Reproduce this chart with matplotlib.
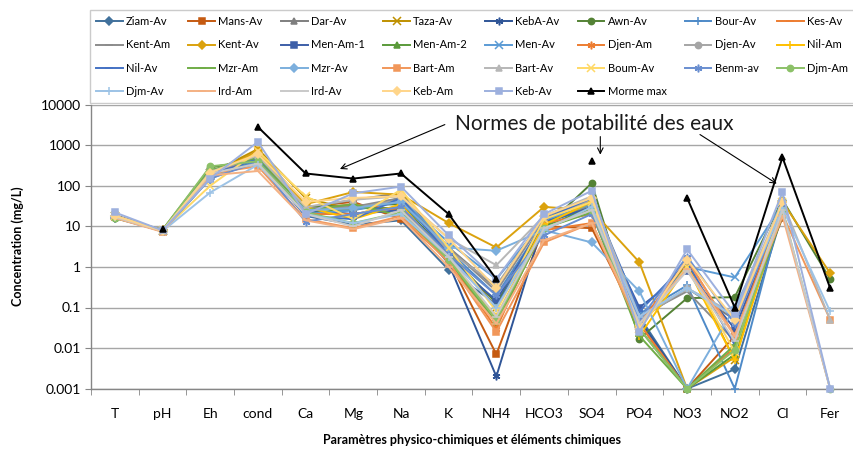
import numpy as np
import matplotlib
matplotlib.use("Agg")
import matplotlib.pyplot as plt

plt.rcParams['font.family'] = ['Lato', 'DejaVu Sans']

params = ["T", "pH", "Eh", "cond", "Ca", "Mg", "Na", "K", "NH4", "HCO3",
          "SO4", "PO4", "NO3", "NO2", "Cl", "Fer"]
nan = np.nan

# concentrations per station, in the order of `params`
Ziam_Av   = [16, 7.6, 150, 420, 18, 11, 14, 0.85, 0.12, 12, 35, 0.06, 0.001, 0.003, 20, nan]
Mans_Av   = [18, 7.9, 190, 700, 30, 40, 15, 1.5, 0.007, 10, 9, 0.04, 0.001, 0.02, 16, nan]
Dar_Av    = [19, 8.0, 220, 650, 28, 45, 65, 3, 0.3, 18, 40, 0.05, 0.3, 0.05, 40, nan]
Taza_Av   = [18, 7.7, 200, 800, 50, 25, 50, 2.5, 0.1, 12, 35, 0.04, 1.2, 0.005, 35, nan]
KebA_Av   = [17, 7.8, 170, 500, 22, 20, 30, 1.2, 0.002, 14, 25, 0.05, 0.001, 0.01, 22, nan]
Awn_Av    = [16, 8.2, 280, 450, 30, 33, 35, 2, 0.13, 9, 115, 0.017, 0.17, 0.18, 45, 0.5]
Bour_Av   = [17, 7.9, 170, 400, 20, 25, 40, 2.5, 0.2, 12, 30, 0.07, 0.35, 0.001, 30, nan]
Kes_Av    = [18, 7.6, 200, 550, 25, 35, 25, 1.5, 0.05, 8, 12, 0.04, 0.001, 0.01, 20, nan]
Kent_Am   = [18, 7.8, 190, 600, 28, 30, 50, 3, 0.25, 15, 45, 0.06, 0.25, 0.015, 35, nan]
Kent_Av   = [18, 8.0, 180, 700, 35, 70, 60, 12, 3.0, 30, 25, 1.3, 0.001, 0.006, 40, 0.7]
Men_Am_1  = [17, 7.7, 160, 500, 25, 20, 25, 1.5, 0.15, 12, 30, 0.1, 0.8, 0.03, 25, nan]
Men_Am_2  = [17, 7.6, 170, 480, 20, 28, 28, 1.8, 0.04, 10, 28, 0.03, 0.001, 0.007, 22, nan]
Men_Av    = [18, 7.8, 200, 450, 20, 25, 45, 4, 0.5, 14, 35, 0.04, 1.0, 0.55, 35, nan]
Djen_Am   = [17, 7.5, 180, 550, 20, 20, 30, 1.5, 0.03, 12, 20, 0.04, 1.5, 0.02, 30, nan]
Djen_Av   = [18, 7.8, 200, 550, 25, 28, 45, 2.5, 0.35, 16, 45, 0.05, 0.3, 0.06, 35, nan]
Nil_Am    = [17, 7.8, 220, 600, 30, 15, 35, 1.5, 0.06, 11, 40, 0.02, 1.0, 0.005, 30, nan]
Nil_Av    = [17, 7.7, 190, 450, 18, 15, 50, 2, 0.1, 15, 50, 0.08, 1.3, 0.012, 30, nan]
Mzr_Am    = [16, 7.9, 240, 500, 25, 35, 18, 1.5, 0.04, 9, 22, 0.02, 0.001, 0.012, 18, nan]
Mzr_Av    = [18, 7.7, 170, 350, 25, 28, 40, 3, 2.5, 8, 4, 0.25, 0.001, 0.1, 25, nan]
Bart_Am   = [17, 7.4, 200, 300, 15, 9, 18, 1.3, 0.025, 4, 12, 0.03, 1.5, 0.02, 20, 0.05]
Bart_Av   = [18, 7.8, 220, 550, 30, 45, 55, 5, 1.1, 18, 55, 0.06, 0.3, 0.07, 40, 0.05]
Boum_Av   = [18, 7.9, 100, 700, 55, 15, 80, 3, 0.08, 15, 40, 0.03, 1.0, 0.008, 40, nan]
Benm_av   = [17, 7.6, 150, 380, 13, 20, 30, 2, 0.2, 6, 20, 0.05, 1.8, 0.04, 30, nan]
Djm_Am    = [16, 8.1, 300, 400, 22, 12, 22, 1.5, 0.05, 9, 25, 0.03, 0.001, 0.009, 25, 0.001]
Djm_Av    = [17, 7.6, 68, 330, 20, 12, 20, 1.8, 0.1, 8, 30, 0.06, 0.3, 0.06, 28, 0.08]
Ird_Am    = [16, 7.3, 180, 230, 14, 8.5, 16, 1.0, 0.04, 4.5, 12, 0.04, 0.9, 0.02, 18, 0.001]
Ird_Av    = [17, 7.7, 200, 350, 20, 10, 25, 1.8, 0.06, 9, 25, 0.04, 0.8, 0.015, 25, 0.001]
Keb_Am    = [18, 7.8, 210, 600, 40, 50, 55, 5, 0.3, 18, 50, 0.03, 1.5, 0.05, 40, nan]
Keb_Av    = [22, 7.9, 150, 1200, 20, 65, 95, 6, 0.5, 20, 75, 0.025, 2.7, 0.07, 70, 0.001]
Morme_max = [nan, 8.5, nan, 2800, 200, 150, 200, 20, 0.5, nan, 400, nan, 50, 0.1, 500, 0.3]

STAR = (6, 2, 0)
series = [
    ("Ziam-Av", Ziam_Av, "#41719C", "D"),
    ("Mans-Av", Mans_Av, "#C55A11", "s"),
    ("Dar-Av", Dar_Av, "#7F7F7F", "^"),
    ("Taza-Av", Taza_Av, "#BF9000", "x"),
    ("KebA-Av", KebA_Av, "#2F5597", STAR),
    ("Awn-Av", Awn_Av, "#548235", "o"),
    ("Bour-Av", Bour_Av, "#4E8AC8", "+"),
    ("Kes-Av", Kes_Av, "#ED7D31", "_"),
    ("Kent-Am", Kent_Am, "#8C8C8C", "_"),
    ("Kent-Av", Kent_Av, "#DBA20E", "D"),
    ("Men-Am-1", Men_Am_1, "#3D5FA8", "s"),
    ("Men-Am-2", Men_Am_2, "#5A9A3A", "^"),
    ("Men-Av", Men_Av, "#5B9BD5", "x"),
    ("Djen-Am", Djen_Am, "#ED7D31", STAR),
    ("Djen-Av", Djen_Av, "#A5A5A5", "o"),
    ("Nil-Am", Nil_Am, "#FFC000", "+"),
    ("Nil-Av", Nil_Av, "#4472C4", "_"),
    ("Mzr-Am", Mzr_Am, "#70AD47", "_"),
    ("Mzr-Av", Mzr_Av, "#7CAFDD", "D"),
    ("Bart-Am", Bart_Am, "#F1975A", "s"),
    ("Bart-Av", Bart_Av, "#B7B7B7", "^"),
    ("Boum-Av", Boum_Av, "#FFD966", "x"),
    ("Benm-av", Benm_av, "#698ED0", STAR),
    ("Djm-Am", Djm_Am, "#8CC168", "o"),
    ("Djm-Av", Djm_Av, "#9DC3E6", "+"),
    ("Ird-Am", Ird_Am, "#F4B183", "_"),
    ("Ird-Av", Ird_Av, "#C9C9C9", "_"),
    ("Keb-Am", Keb_Am, "#FFD58A", "D"),
    ("Keb-Av", Keb_Av, "#9DB0DE", "s"),
    ("Morme max", Morme_max, "#000000", "^"),
]

fig = plt.figure(figsize=(8.54, 4.54), dpi=100)
ax = fig.add_axes([91 / 854, 1 - 388.7 / 454, 763 / 854, (388.7 - 104.5) / 454])

x = np.arange(len(params))
handles = []
for name, vals, col, mk in series:
    ms = 4.5 if mk in ("D", "s", "^", "o") else 5.5
    ln, = ax.plot(x, vals, color=col, marker=mk, ms=ms, lw=1.4, mew=1.1,
                  mfc=col, mec=col, clip_on=False, label=name, zorder=3)
    handles.append(ln)

ax.set_yscale("log")
ax.set_ylim(0.001, 10000)
ax.set_xlim(-0.5, len(params) - 0.5)
yt = [0.001, 0.01, 0.1, 1, 10, 100, 1000, 10000]
ax.set_yticks(yt)
ax.set_yticklabels(["0.001", "0.01", "0.1", "1", "10", "100", "1000", "10000"])
ax.yaxis.set_minor_locator(matplotlib.ticker.NullLocator())
ax.tick_params(axis="y", labelsize=10, length=4, color="#868686", pad=3)
ax.set_xticks(x)
ax.set_xticklabels(params)
ax.set_xticks(np.arange(len(params) + 1) - 0.5, minor=True)
ax.tick_params(axis="x", which="major", length=0, labelsize=10, pad=14)
ax.tick_params(axis="x", which="minor", length=4, color="#868686")
ax.grid(axis="y", color="#A6A6A6", lw=1.0, zorder=0)
ax.set_axisbelow(True)
for s in ("top", "right"):
    ax.spines[s].set_visible(False)
for s in ("left", "bottom"):
    ax.spines[s].set_color("#868686")
    ax.spines[s].set_linewidth(1.0)

ax.set_ylabel("Concentration (mg/L)", fontsize=9, fontweight="bold", labelpad=12)
ax.set_xlabel("Paramètres physico-chimiques et éléments chimiques", fontsize=9,
              fontweight="bold", labelpad=10)

# annotation for the drinking-water limits
ax.text(10.06, 3390, "Normes de potabilité des eaux", fontsize=15,
        ha="center", va="center", color="#1a1a1a")
arr = dict(arrowstyle="->", color="black", lw=0.8, shrinkA=0, shrinkB=0)
ax.annotate("", xy=(4.72, 258), xytext=(6.92, 3200), arrowprops=arr)
ax.annotate("", xy=(10.18, 582), xytext=(10.18, 1620), arrowprops=arr)
ax.annotate("", xy=(13.88, 112), xytext=(12.27, 1820), arrowprops=arr)

# legend laid out row by row over 8 columns
ncol = 8
order = [r * ncol + c for c in range(ncol) for r in range(4) if r * ncol + c < len(handles)]
leg = fig.legend([handles[i] for i in order], [series[i][0] for i in order],
                 ncol=ncol, loc="lower left", mode="expand",
                 bbox_to_anchor=(90 / 854, 1 - 103 / 454, 764 / 854, 90 / 454),
                 fontsize=8, frameon=True, fancybox=False, handlelength=2.4,
                 handletextpad=0.3, labelspacing=1.1, borderaxespad=0,
                 borderpad=0.55, columnspacing=0.5)
leg.get_frame().set_edgecolor("#BFBFBF")
leg.get_frame().set_linewidth(1.0)

fig.savefig("out.png", dpi=100)
